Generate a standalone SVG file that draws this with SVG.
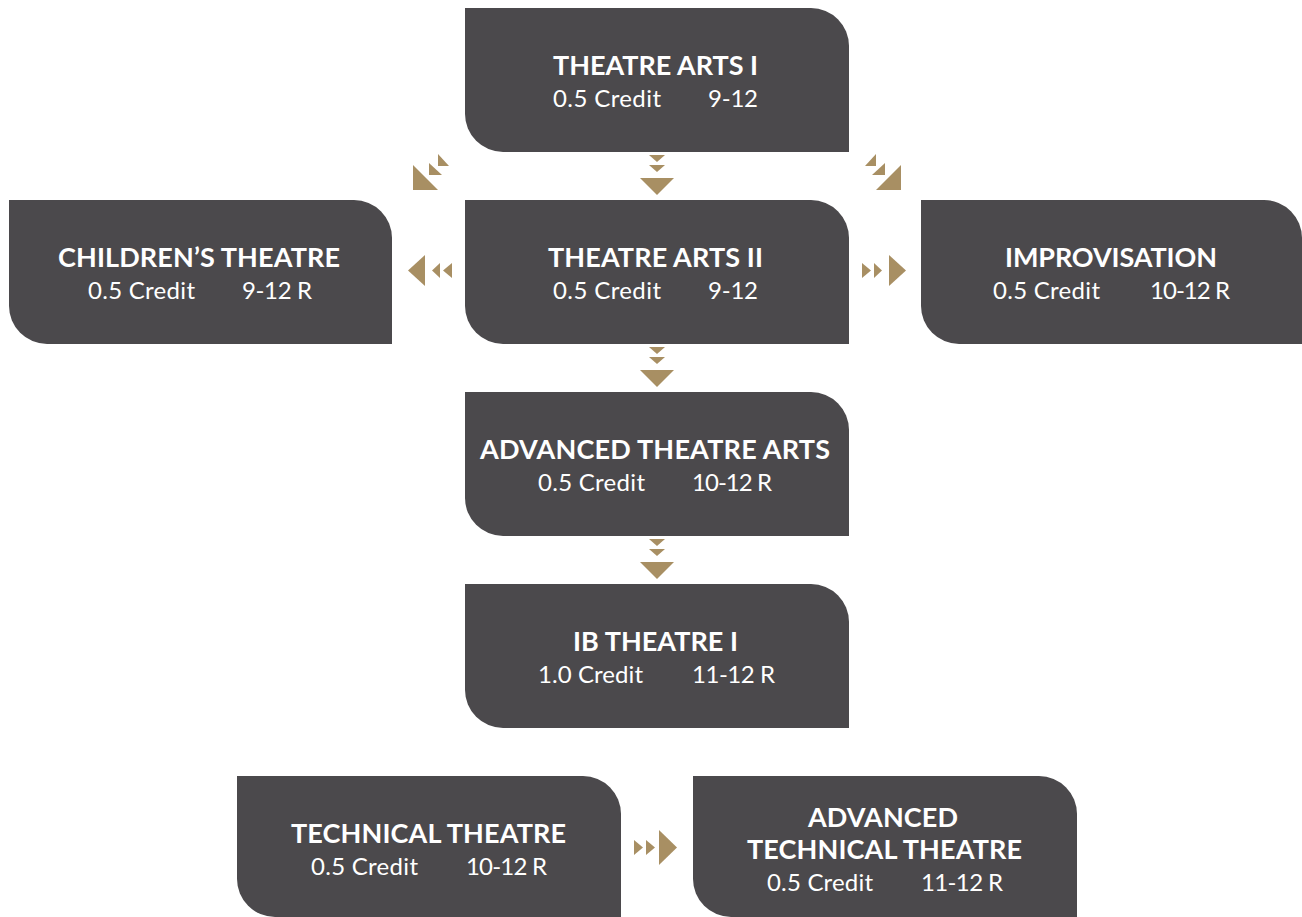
<svg xmlns="http://www.w3.org/2000/svg" width="1302" height="917" viewBox="0 0 1302 917">
<style>
.box{fill:#4b494c}
.arw{fill:#a88f63}
.t{font-family:Lato,"Open Sans","Liberation Sans",sans-serif;font-weight:bold;font-size:27px;fill:#ffffff;text-anchor:middle}
.s{font-family:Lato,"Open Sans","Liberation Sans",sans-serif;font-size:24px;fill:#ffffff}
</style>
<rect width="1302" height="917" fill="#ffffff"/>
<g id="connectors">
  <g id="c-ta1-ta2"><polygon class="arw" points="649,155 665,155 657,162"/><polygon class="arw" points="649,165 665,165 657,172"/><polygon class="arw" points="640,178 674,178 657,195"/></g>
  <g id="c-ta2-adv"><polygon class="arw" points="649,347 665,347 657,354"/><polygon class="arw" points="649,357 665,357 657,364"/><polygon class="arw" points="640,370 674,370 657,387"/></g>
  <g id="c-adv-ib"><polygon class="arw" points="649,539 665,539 657,546"/><polygon class="arw" points="649,549 665,549 657,556"/><polygon class="arw" points="640,562 674,562 657,579"/></g>
  <g id="c-ta2-child"><polygon class="arw" points="452,263 452,278 443,270.5"/><polygon class="arw" points="440,263 440,278 432,270.5"/><polygon class="arw" points="425,255 425,286 408,270.5"/></g>
  <g id="c-ta2-impro"><polygon class="arw" points="862,263 862,278 871,270.5"/><polygon class="arw" points="874,263 874,278 882,270.5"/><polygon class="arw" points="889,255 889,286 906,270.5"/></g>
  <g id="c-ta1-child"><polygon class="arw" points="438,154 438,166 449,166"/><polygon class="arw" points="429,163 429,175 442,175"/><polygon class="arw" points="413,165 413,190 438,190"/></g>
  <g id="c-ta1-impro"><polygon class="arw" points="876,154 876,166 865,166"/><polygon class="arw" points="885,163 885,175 872,175"/><polygon class="arw" points="901,165 901,190 876,190"/></g>
  <g id="c-tech-advtech"><polygon class="arw" points="634,840 634,855 643,847.5"/><polygon class="arw" points="646,840 646,855 655,847.5"/><polygon class="arw" points="659,830 659,865 677,847.5"/></g>
</g>
<g id="n-ta1">
  <path class="box" d="M465 8H811A38 38 0 0 1 849 46V152H503A38 38 0 0 1 465 114Z"/>
  <text class="t" x="655.5" y="75" textLength="205">THEATRE ARTS I</text>
  <text class="s" x="553" y="107" textLength="108">0.5 Credit</text><text class="s" x="708" y="107" textLength="50">9-12</text>
</g>
<g id="n-child">
  <path class="box" d="M9 200H354A38 38 0 0 1 392 238V344H47A38 38 0 0 1 9 306Z"/>
  <text class="t" x="199" y="267" textLength="282">CHILDREN’S THEATRE</text>
  <text class="s" x="88" y="299" textLength="107">0.5 Credit</text><text class="s" x="242" y="299" textLength="70">9-12 R</text>
</g>
<g id="n-ta2">
  <path class="box" d="M465 200H811A38 38 0 0 1 849 238V344H503A38 38 0 0 1 465 306Z"/>
  <text class="t" x="655.5" y="267" textLength="215">THEATRE ARTS II</text>
  <text class="s" x="553" y="299" textLength="108">0.5 Credit</text><text class="s" x="708" y="299" textLength="50">9-12</text>
</g>
<g id="n-impro">
  <path class="box" d="M921 200H1264A38 38 0 0 1 1302 238V344H959A38 38 0 0 1 921 306Z"/>
  <text class="t" x="1111" y="267" textLength="212">IMPROVISATION</text>
  <text class="s" x="993" y="299" textLength="107">0.5 Credit</text><text class="s" x="1150" y="299" textLength="80">10-12 R</text>
</g>
<g id="n-adv">
  <path class="box" d="M465 392H811A38 38 0 0 1 849 430V536H503A38 38 0 0 1 465 498Z"/>
  <text class="t" x="655" y="459" textLength="350">ADVANCED THEATRE ARTS</text>
  <text class="s" x="538" y="491" textLength="107">0.5 Credit</text><text class="s" x="692" y="491" textLength="80">10-12 R</text>
</g>
<g id="n-ib">
  <path class="box" d="M465 584H811A38 38 0 0 1 849 622V728H503A38 38 0 0 1 465 690Z"/>
  <text class="t" x="655.5" y="651" textLength="165">IB THEATRE I</text>
  <text class="s" x="538" y="683" textLength="105">1.0 Credit</text><text class="s" x="692" y="683" textLength="83">11-12 R</text>
</g>
<g id="n-tech">
  <path class="box" d="M237 776H583A38 38 0 0 1 621 814V917H275A38 38 0 0 1 237 879Z"/>
  <text class="t" x="428.5" y="843" textLength="275">TECHNICAL THEATRE</text>
  <text class="s" x="311" y="875" textLength="107">0.5 Credit</text><text class="s" x="466" y="875" textLength="81">10-12 R</text>
</g>
<g id="n-advtech">
  <path class="box" d="M693 776H1039A38 38 0 0 1 1077 814V917H731A38 38 0 0 1 693 879Z"/>
  <text class="t" x="883" y="827" textLength="150">ADVANCED</text>
  <text class="t" x="884.5" y="859" textLength="275">TECHNICAL THEATRE</text>
  <text class="s" x="767" y="891" textLength="106">0.5 Credit</text><text class="s" x="921" y="891" textLength="82">11-12 R</text>
</g>
</svg>
